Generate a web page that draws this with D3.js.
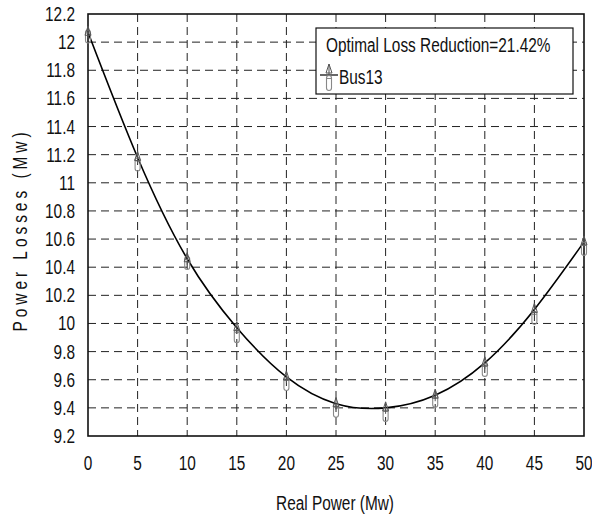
<!DOCTYPE html>
<html>
<head>
<script src="https://d3js.org/d3.v7.min.js"></script>
<style>
  body { margin: 0; background: #fff; }
</style>
</head>
<body>
<script>

// data
var realPower = [0, 5, 10, 15, 20, 25, 30, 35, 40, 45, 50];
var lossBus13 = [12.07, 11.18, 10.46, 9.97, 9.62, 9.43, 9.40, 9.49, 9.72, 10.10, 10.58];
var lossPill  = [12.04, 11.13, 10.43, 9.91, 9.57, 9.38, 9.35, 9.45, 9.67, 10.04, 10.53];
var xTicks = [0, 5, 10, 15, 20, 25, 30, 35, 40, 45, 50];
var yTicks = [9.2, 9.4, 9.6, 9.8, 10, 10.2, 10.4, 10.6, 10.8, 11, 11.2, 11.4, 11.6, 11.8, 12, 12.2];
var legendTitle = "Optimal Loss Reduction=21.42%";
var seriesName = "Bus13";

var w = 592, h = 516;
var margin = {top: 14, right: 8, bottom: 80, left: 88};
var font = "'Liberation Sans',Arial,sans-serif";
var squeeze = 0.77; // the original type is a narrow face

var svg = d3.select("body").append("svg")
  .attr("width", w)
  .attr("height", h);

var x = d3.scaleLinear().domain([0, 50]).range([margin.left, w - margin.right]);
var y = d3.scaleLinear().domain([9.2, 12.2]).range([h - margin.bottom, margin.top]);

// narrow text helper
function label(g, tx, ty, str, anchor, rot) {
  return g.append("text")
    .attr("transform", "translate(" + tx + "," + ty + ")" + (rot ? " rotate(" + rot + ")" : "") + " scale(" + squeeze + ",1)")
    .attr("text-anchor", anchor || "start")
    .attr("font-family", font)
    .attr("font-size", "20px")
    .attr("fill", "#111")
    .text(str);
}

// dashed grid
svg.append("g")
  .selectAll("line")
  .data(xTicks.slice(1, -1))
  .enter().append("line")
  .attr("x1", d => x(d)).attr("x2", d => x(d))
  .attr("y1", y(12.2)).attr("y2", y(9.2))
  .attr("stroke", "#222").attr("stroke-width", 1)
  .attr("stroke-dasharray", "8,5");

svg.append("g")
  .selectAll("line")
  .data(yTicks.slice(1, -1))
  .enter().append("line")
  .attr("x1", x(0)).attr("x2", x(50))
  .attr("y1", d => y(d)).attr("y2", d => y(d))
  .attr("stroke", "#222").attr("stroke-width", 1)
  .attr("stroke-dasharray", "8,5");

// tick labels
var ticks = svg.append("g");
xTicks.forEach(function(t) {
  label(ticks, x(t), 470, String(t), "middle");
});
yTicks.forEach(function(t) {
  label(ticks, 75, y(t) + 7, String(+t.toFixed(1)), "end");
});

// plot frame
svg.append("rect")
  .attr("x", x(0)).attr("y", y(12.2))
  .attr("width", x(50) - x(0)).attr("height", y(9.2) - y(12.2))
  .attr("fill", "none").attr("stroke", "#111").attr("stroke-width", 1.6);

// smooth curve
var line = d3.line()
  .x(d => x(d[0]))
  .y(d => y(d[1]))
  .curve(d3.curveNatural);

svg.append("path")
  .datum(d3.zip(realPower, lossBus13))
  .attr("d", line)
  .attr("fill", "none")
  .attr("stroke", "#000")
  .attr("stroke-width", 1.6);

// markers
function pill(g, cx, cy, hh) {
  g.append("rect")
    .attr("x", cx - 2.5).attr("y", cy - hh / 2)
    .attr("width", 5).attr("height", hh)
    .attr("rx", 2.5).attr("ry", 2.5)
    .attr("fill", "none").attr("stroke", "#888").attr("stroke-width", 1.1);
  g.append("line")
    .attr("x1", cx - 2.5).attr("x2", cx + 2.5)
    .attr("y1", cy - hh / 2 + 3).attr("y2", cy - hh / 2 + 3)
    .attr("stroke", "#888").attr("stroke-width", 1);
}
function tri(g, cx, cy) {
  g.append("path")
    .attr("d", "M" + (cx - 3) + "," + (cy + 3) + "L" + cx + "," + (cy - 6) + "L" + (cx + 3) + "," + (cy + 3) + "Z")
    .attr("fill", "none").attr("stroke", "#555").attr("stroke-width", 1);
  g.append("line")
    .attr("x1", cx).attr("x2", cx)
    .attr("y1", cy - 6).attr("y2", cy + 6)
    .attr("stroke", "#555").attr("stroke-width", 1);
}

var marks = svg.append("g");
realPower.forEach(function(p, i) {
  pill(marks, x(p), y(lossPill[i]), 13);
  tri(marks, x(p), y(lossBus13[i]));
});

// legend
var lg = svg.append("g");
lg.append("rect")
  .attr("x", 316).attr("y", 28)
  .attr("width", 257).attr("height", 66)
  .attr("fill", "#fff").attr("stroke", "#111").attr("stroke-width", 1.2);
label(lg, 326, 52, legendTitle);
lg.append("line")
  .attr("x1", 320).attr("x2", 338)
  .attr("y1", 75).attr("y2", 75)
  .attr("stroke", "#000").attr("stroke-width", 1.2);
tri(lg, 329, 70);
pill(lg, 329, 83, 15);
label(lg, 339, 84, seriesName);

// axis titles
label(svg, 335, 510, "Real Power (Mw)", "middle");
label(svg, 27, 230, "Power Losses (Mw)", "middle", -90)
  .attr("letter-spacing", "5.2px");

</script>
</body>
</html>
